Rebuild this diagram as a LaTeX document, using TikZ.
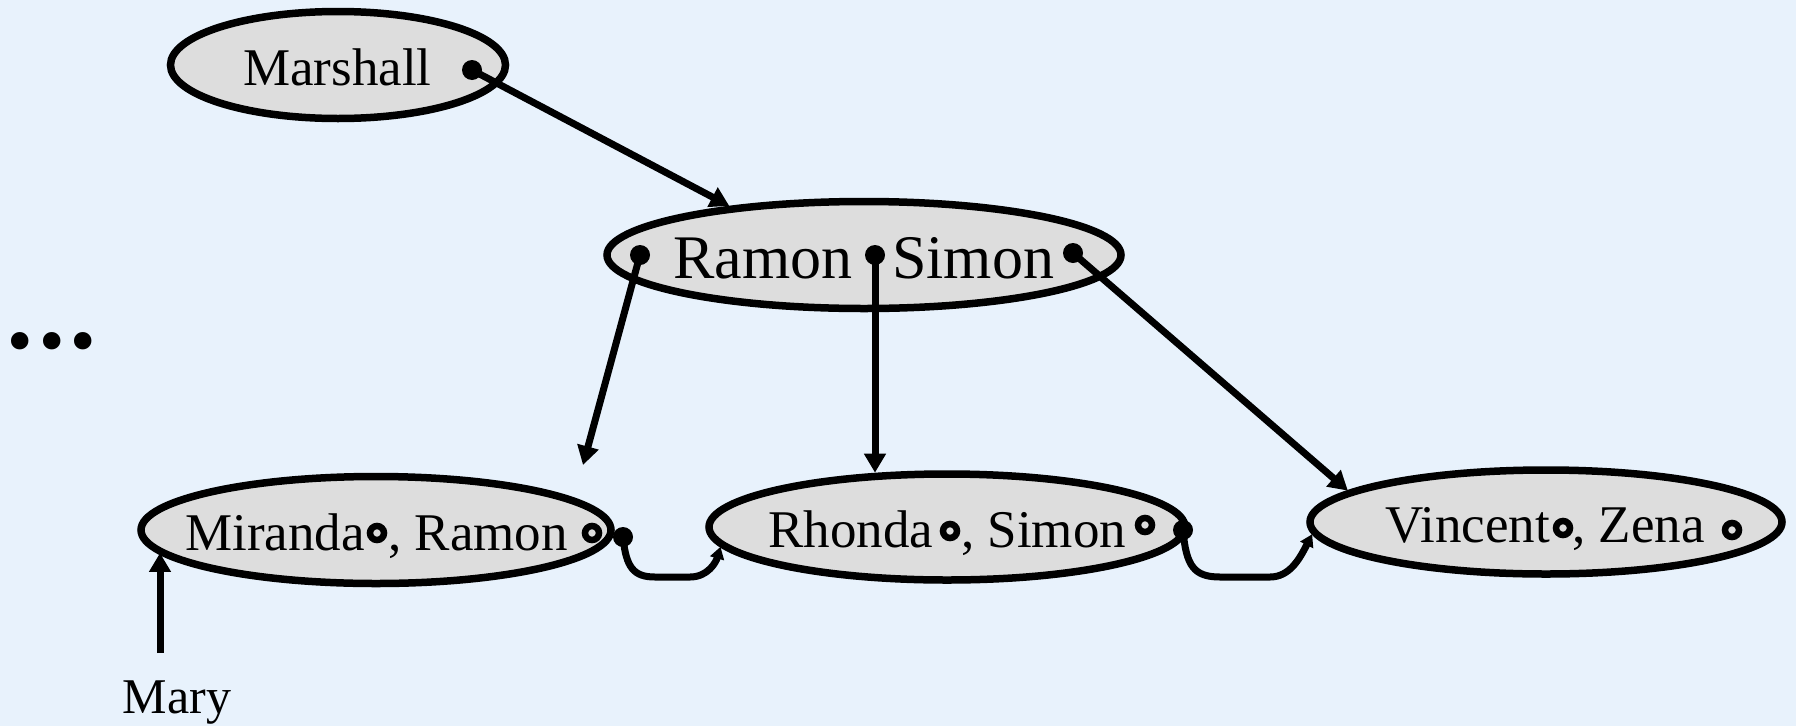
\documentclass[tikz,border=0pt]{standalone}
\usepackage{fontspec}
\setmainfont{Liberation Serif}
\newfontfamily\dvfont{DejaVu Sans}
\usetikzlibrary{arrows.meta,shapes.geometric}
\definecolor{bgblue}{RGB}{232,242,252}
\definecolor{ellgray}{RGB}{221,221,221}
\pgfdeclarelayer{bglayer}
\pgfdeclarelayer{connlayer}
\pgfsetlayers{bglayer,connlayer,main}
\begin{document}
\begin{tikzpicture}[x=1pt,y=-1pt,
  ell/.style={ellipse, draw=black, line width=7.5pt, fill=ellgray, inner sep=0pt},
  lbl/.style={anchor=base west, inner sep=0pt, font=\fontsize{53}{60}\selectfont},
  big/.style={anchor=base west, inner sep=0pt, font=\fontsize{62}{70}\selectfont},
  fdot/.style={circle, fill=black, inner sep=0pt, minimum size=20pt},
  odot/.style={circle, draw=black, line width=6.5pt, fill=ellgray, inner sep=0pt, minimum size=14pt},
  arr/.style={line width=7pt, -{Triangle[length=19pt,width=21pt]}},
  conn/.style={line width=7pt, -{Triangle[length=12pt,width=14pt]}},
]
\useasboundingbox (0,0) rectangle (1796,726);
\begin{pgfonlayer}{bglayer}
\fill[bgblue] (0,0) rectangle (1796,726);
\end{pgfonlayer}

% ellipses
\node[ell, minimum width=335pt, minimum height=107pt] (marshall) at (338,65) {};
\node[ell, minimum width=514pt, minimum height=107pt] (rs) at (864,255) {};
\node[ell, minimum width=470pt, minimum height=107pt] (miranda) at (376,530) {};
\node[ell, minimum width=476pt, minimum height=106pt] (rhonda) at (947,527) {};
\node[ell, minimum width=472pt, minimum height=104pt] (vincent) at (1546,522) {};

% texts and dots
\node[lbl] (tmarshall) at (243,85) {Marshall};
\node[fdot] (dmarshall) at (472,70) {};
\node[big] (tramon) at (673,278) {Ramon};
\node[big] (tsimon) at (892,278) {Simon};
\node[fdot] (drs1) at (640,255) {};
\node[fdot] (drs2) at (875,255) {};
\node[fdot] (drs3) at (1073,253) {};
\node[lbl] (tmiranda) at (185,550) {Miranda};
\node[odot] (omiranda) at (377,533) {};
\node[lbl] (tmramon) at (388,550) {, Ramon};
\node[odot] (omramon) at (592,533) {};
\node[fdot] (dmiranda) at (623,537) {};
\node[lbl] (trhonda) at (768,547) {Rhonda};
\node[odot] (orhonda) at (950,531) {};
\node[lbl] (trsimon) at (961,547) {, Simon};
\node[odot] (orsimon) at (1145,525) {};
\node[fdot] (drhonda) at (1183,530) {};
\node[lbl] (tvincent) at (1385,542) {Vincent};
\node[odot] (ovincent) at (1563,528) {};
\node[lbl] (tzena) at (1572,542) {, Zena};
\node[odot] (ozena) at (1732,530) {};
\node[anchor=base, inner sep=0pt, font=\fontsize{50}{60}\selectfont] (mary) at (177,713) {Mary};
\coordinate (maryarrow) at (160,653);
\coordinate (mirandaend) at (583,465);
\node[inner sep=0pt, font=\dvfont\fontsize{60}{60}\selectfont] (dots) at (52,348) {•\kern-4pt•\kern-4pt•};

% arrows
\draw[arr] (dmarshall.center) -- (rs.160);
\draw[arr] (drs1.center) -- (mirandaend);
\draw[arr] (drs2.center) -- (drs2.center |- rhonda.142);
\draw[arr] (drs3.center) -- (vincent.171);
\draw[arr] (maryarrow) -- (maryarrow |- miranda.186);

\begin{pgfonlayer}{connlayer}
\draw[conn] (dmiranda.center) .. controls (626,568) and (634,577) .. (655,577) -- (690,577) .. controls (708,577) and (716,562) .. (rhonda.185);
\draw[conn] (drhonda.center) .. controls (1186,566) and (1194,577) .. (1220,577) -- (1270,577) .. controls (1290,577) and (1300,558) .. (vincent.183);
\end{pgfonlayer}
\end{tikzpicture}
\end{document}
